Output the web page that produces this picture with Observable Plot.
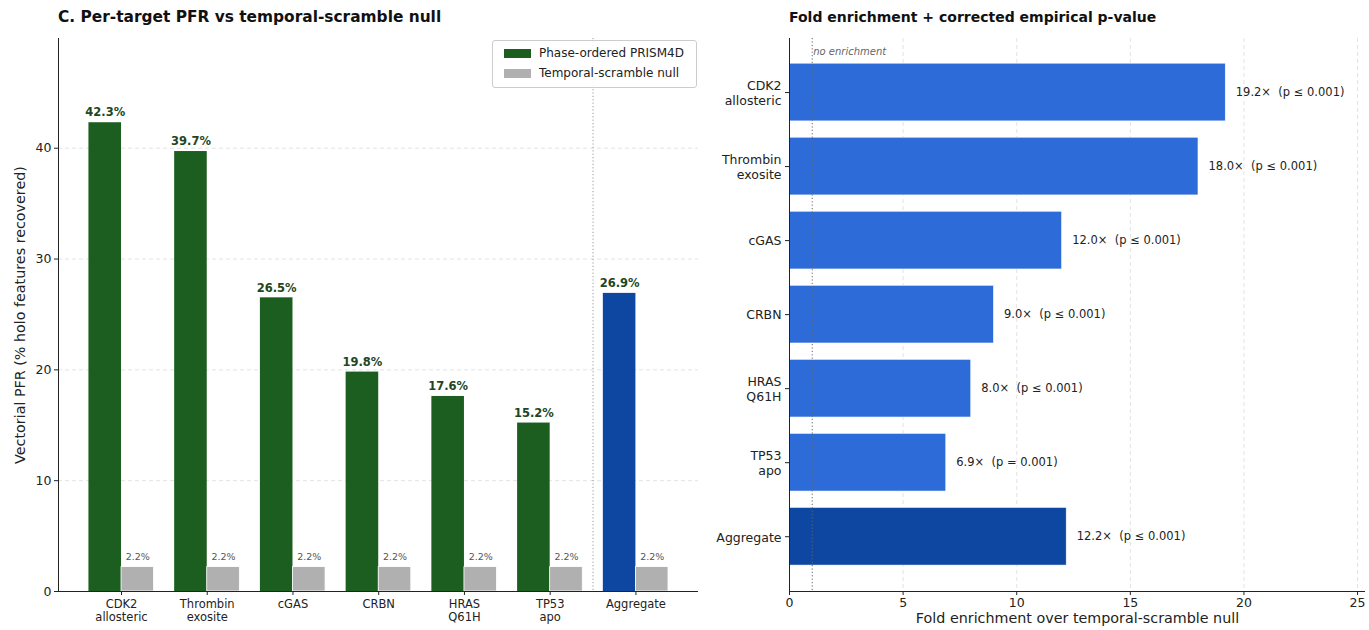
<!DOCTYPE html>
<html><head><meta charset="utf-8">
<script src="https://cdn.jsdelivr.net/npm/d3@7"></script>
<script src="https://cdn.jsdelivr.net/npm/@observablehq/plot@0.6"></script>
<style>
body{margin:0;background:#fff;font-family:"DejaVu Sans",sans-serif;}
#wrap{position:relative;width:1369px;height:630px;overflow:hidden;}
.panel{position:absolute;top:0;}
.title{position:absolute;font-weight:bold;color:#111;white-space:nowrap;}
#legend{position:absolute;left:492px;top:40px;width:203px;height:46px;border:1px solid #ccc;border-radius:3px;background:rgba(255,255,255,0.85);font-size:12px;color:#222;}
#legend .row{position:absolute;left:11px;display:flex;align-items:center;white-space:nowrap;}
#legend .sw{width:27px;height:9px;margin-right:8px;}
</style></head>
<body>
<div id="wrap">
  <div id="left" class="panel" style="left:0"></div>
  <div id="right" class="panel" style="left:700px"></div>
  <div class="title" style="left:58px;top:8px;font-size:15.4px;">C. Per-target PFR vs temporal-scramble null</div>
  <div class="title" style="left:789px;top:9px;font-size:14px;">Fold enrichment + corrected empirical p-value</div>
  <div id="legend">
    <div class="row" style="top:5px"><div class="sw" style="background:#1b5e20"></div>Phase-ordered PRISM4D</div>
    <div class="row" style="top:25px"><div class="sw" style="background:#b0b0b0"></div>Temporal-scramble null</div>
  </div>
</div>
<script>
// ---- data ----
const targets = ["CDK2\nallosteric", "Thrombin\nexosite", "cGAS", "CRBN", "HRAS\nQ61H", "TP53\napo", "Aggregate"];
const pfrPhase = [42.3, 39.7, 26.5, 19.8, 17.6, 15.2, 26.9];
const pfrNull = [2.2, 2.2, 2.2, 2.2, 2.2, 2.2, 2.2];
const foldEnrichment = [19.2, 18.0, 12.0, 9.0, 8.0, 6.9, 12.2];
const pValueLabels = ["p ≤ 0.001", "p ≤ 0.001", "p ≤ 0.001", "p ≤ 0.001", "p ≤ 0.001", "p = 0.001", "p ≤ 0.001"];
const leftYTicks = [0, 10, 20, 30, 40];
const rightXTicks = [0, 5, 10, 15, 20, 25];

const GREEN = "#1b5e20", GRAY = "#b0b0b0", BLUE = "#2d6bd8", DARKBLUE = "#0d47a1";
const rows = targets.map((t, i) => ({
  i, target: t, phase: pfrPhase[i], nul: pfrNull[i], fold: foldEnrichment[i], p: pValueLabels[i],
  agg: t === "Aggregate"
}));
const W = 0.38;

const left = Plot.plot({
  width: 710, height: 630,
  marginLeft: 58, marginRight: 12, marginTop: 38, marginBottom: 39,
  style: {fontFamily: "DejaVu Sans", fontSize: "12px", color: "#222", background: "transparent"},
  x: {type: "linear", domain: [-0.735, 6.73]},
  y: {type: "linear", domain: [0, 49.9]},
  color: {type: "identity"},
  marks: [
    Plot.gridY(leftYTicks.slice(1), {stroke: "#e3e3e3", strokeOpacity: 1, strokeDasharray: "4,3"}),
    Plot.ruleX([5.5], {stroke: "#999", strokeDasharray: "1.2,2.2", strokeWidth: 1}),
    Plot.rect(rows, {x1: d => d.i - W, x2: d => d.i, y1: 0, y2: "phase", fill: d => d.agg ? DARKBLUE : GREEN}),
    Plot.rect(rows, {x1: d => d.i, x2: d => d.i + W, y1: 0, y2: "nul", fill: GRAY, stroke: "white", strokeWidth: 0.8}),
    Plot.text(rows, {x: d => d.i - W / 2, y: "phase", text: d => d.phase.toFixed(1) + "%", dy: -10, fill: "#1e4620", fontWeight: "bold", fontSize: 11.5}),
    Plot.text(rows, {x: d => d.i + W / 2, y: "nul", text: d => d.nul.toFixed(1) + "%", dy: -10, fill: "#555", fontSize: 9.5}),
    Plot.axisY({ticks: leftYTicks, tickSize: 4, tickPadding: 3, fontSize: 12.5, label: null}),
    Plot.text(["Vectorial PFR (% holo features recovered)"], {frameAnchor: "left", textAnchor: "middle", text: d => d, rotate: -90, dx: -38, fontSize: 14.3, fill: "#222"}),
    Plot.axisX({ticks: d3.range(7), tickFormat: i => targets[i], tickSize: 4, tickPadding: 3, fontSize: 11.5, lineHeight: 1.15, label: null}),
    Plot.ruleX([-0.735], {stroke: "#222", strokeWidth: 1}),
    Plot.ruleY([0], {stroke: "#222", strokeWidth: 1})
  ]
});
document.getElementById("left").appendChild(left);

const right = Plot.plot({
  width: 669, height: 630,
  marginLeft: 89, marginRight: 4, marginTop: 38, marginBottom: 39,
  style: {fontFamily: "DejaVu Sans", fontSize: "12px", color: "#222", background: "transparent"},
  x: {type: "linear", domain: [0, 25.35]},
  y: {type: "linear", domain: [-0.73, 6.74], reverse: true},
  color: {type: "identity"},
  marks: [
    Plot.gridX(rightXTicks.slice(1), {stroke: "#e3e3e3", strokeOpacity: 1, strokeDasharray: "4,3"}),
    Plot.rect(rows, {y1: d => d.i - 0.39, y2: d => d.i + 0.39, x1: 0, x2: "fold", fill: d => d.agg ? DARKBLUE : BLUE, stroke: "white", strokeWidth: 0.6}),
    Plot.ruleX([1], {stroke: "#666", strokeDasharray: "1.2,2.2", strokeWidth: 1}),
    Plot.text(["no enrichment"], {x: 1, y: -0.73, text: d => d, dx: 1, dy: 13, textAnchor: "start", fill: "#666", fontStyle: "italic", fontSize: 10}),
    Plot.text(rows, {x: "fold", y: "i", text: d => d.fold.toFixed(1) + "×\u00a0\u00a0(" + d.p + ")", dx: 10, textAnchor: "start", fill: "#222", fontSize: 11.5}),
    Plot.axisY({ticks: d3.range(7), tickFormat: i => targets[i], tickSize: 4, tickPadding: 4, fontSize: 12.5, lineHeight: 1.2, label: null}),
    Plot.axisX({ticks: rightXTicks, tickSize: 4, tickPadding: 3, fontSize: 12.5, label: null}),
    Plot.text(["Fold enrichment over temporal-scramble null"], {frameAnchor: "bottom", text: d => d, dy: 31, fontSize: 14.3, fill: "#222"}),
    Plot.ruleX([0], {stroke: "#222", strokeWidth: 1}),
    Plot.ruleY([6.74], {stroke: "#222", strokeWidth: 1})
  ]
});
document.getElementById("right").appendChild(right);
</script>
</body></html>
